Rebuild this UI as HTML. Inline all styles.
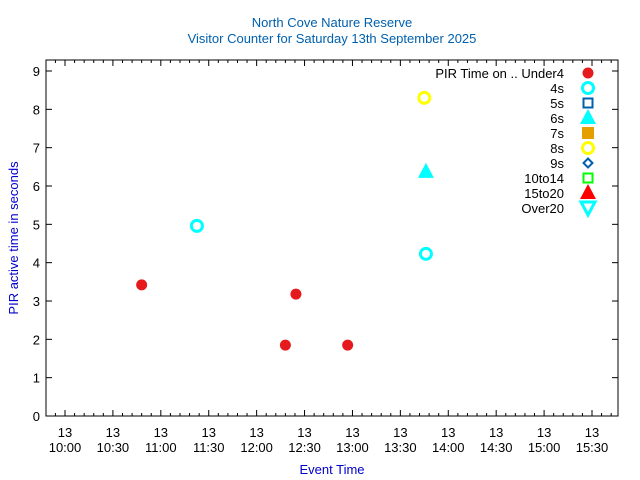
<!DOCTYPE html>
<html><head><meta charset="utf-8"><style>
html,body{margin:0;padding:0;background:#fff}
svg{display:block;font-family:"Liberation Sans",sans-serif}
</style></head><body>
<svg id="chart" width="640" height="480" viewBox="0 0 640 480">
<text x="332" y="27" font-size="13" fill="#0060ad" text-anchor="middle">North Cove Nature Reserve</text>
<text x="332" y="43" font-size="13" fill="#0060ad" text-anchor="middle">Visitor Counter for Saturday 13th September 2025</text>
<text x="332" y="474" font-size="13" fill="#0000cc" text-anchor="middle">Event Time</text>
<text transform="translate(18,238) rotate(-90)" font-size="13" fill="#0000cc" text-anchor="middle">PIR active time in seconds</text>
<g id="axes"></g><g id="marks"></g><g id="legend"></g>
</svg>
<script>
const xTickLabels=["10:00","10:30","11:00","11:30","12:00","12:30","13:00","13:30","14:00","14:30","15:00","15:30"];
const yTicks=[0,1,2,3,4,5,6,7,8,9];
// times in minutes after 10:00
const under4Times=[48,138,144.6,177];
const under4Values=[3.42,1.85,3.18,1.85];
const s4Times=[82.6,226];
const s4Values=[4.96,4.23];
const s6Times=[226];
const s6Values=[6.37];
const s8Times=[225];
const s8Values=[8.3];
const legendLabels=["PIR Time on .. Under4","4s","5s","6s","7s","8s","9s","10to14","15to20","Over20"];

const NS="http://www.w3.org/2000/svg";
const L=46,R=618,T=60,B=416;
const xs=m=>65+m*(527/330);
const ys=v=>416-v*(345/9);
function mk(tag,attrs,parent){const e=document.createElementNS(NS,tag);for(const k in attrs)e.setAttribute(k,attrs[k]);parent.appendChild(e);return e;}
const axes=document.getElementById('axes'),marks=document.getElementById('marks'),legend=document.getElementById('legend');
const frame=mk('rect',{x:L,y:T,width:R-L,height:B-T,fill:'none',stroke:'#000','stroke-width':1},axes);


yTicks.forEach(v=>{const y=ys(v);
 mk('line',{x1:L,x2:L+6,y1:y,y2:y,stroke:'#000'},axes);
 mk('line',{x1:R,x2:R-6,y1:y,y2:y,stroke:'#000'},axes);
 const t=mk('text',{x:L-6,y:y+5,'font-size':13,'text-anchor':'end'},axes);t.textContent=v;
 
 
});
for(let m=-6;m<=342;m+=6){const x=xs(m);if(x<L||x>R)continue;const maj=(m%30===0);const h=maj?6:3;
 mk('line',{x1:x,x2:x,y1:B,y2:B-h,stroke:'#000'},axes);
 mk('line',{x1:x,x2:x,y1:T,y2:T+h,stroke:'#000'},axes);}
xTickLabels.forEach((lab,i)=>{const x=xs(i*30);
 const t=mk('text',{x:x,y:437,'font-size':13,'text-anchor':'middle'},axes);t.textContent="13";
 
 
 const t2=mk('text',{x:x,y:452,'font-size':13,'text-anchor':'middle'},axes);t2.textContent=lab;
 
 
});
function sym(kind,x,y,p){
 let e;
 if(kind==='dot')e=mk('circle',{cx:x,cy:y,r:5.5,fill:'#e41a1c'},p);
 else if(kind==='ocirc')e=mk('circle',{cx:x,cy:y,r:5.5,fill:'none',stroke:'#00ffff','stroke-width':3},p);
 else if(kind==='osq')e=mk('rect',{x:x-4.5,y:y-4.5,width:9,height:9,fill:'none',stroke:'#0060ad','stroke-width':2},p);
 else if(kind==='tri')e=mk('polygon',{points:`${x},${y-9} ${x-8},${y+6} ${x+8},${y+6}`,fill:'#00ffff'},p);
 else if(kind==='sq')e=mk('rect',{x:x-6,y:y-6,width:12,height:12,fill:'#e69f00'},p);
 else if(kind==='ycirc')e=mk('circle',{cx:x,cy:y,r:5.5,fill:'none',stroke:'#ffff00','stroke-width':3},p);
 else if(kind==='dia')e=mk('polygon',{points:`${x},${y-4.5} ${x+4.5},${y} ${x},${y+4.5} ${x-4.5},${y}`,fill:'none',stroke:'#0060ad','stroke-width':2},p);
 else if(kind==='gsq')e=mk('rect',{x:x-4.5,y:y-4.5,width:9,height:9,fill:'none',stroke:'#00ff00','stroke-width':2},p);
 else if(kind==='rtri')e=mk('polygon',{points:`${x},${y-9} ${x-8},${y+6} ${x+8},${y+6}`,fill:'#ff0000'},p);
 else e=mk('polygon',{points:`${x-7},${y-6} ${x+7},${y-6} ${x},${y+7}`,fill:'none',stroke:'#00ffff','stroke-width':3},p);
 return e;}
function series(times,vals,kind,name){times.forEach((t,i)=>{const e=sym(kind,xs(t),ys(vals[i]),marks);
 
 });}
series(under4Times,under4Values,'dot','point-under4');
series(s4Times,s4Values,'ocirc','point-4s');
series(s6Times,s6Values,'tri','point-6s');
series(s8Times,s8Values,'ycirc','point-8s');
const kinds=['dot','ocirc','osq','tri','sq','ycirc','dia','gsq','rtri','itri'];
legendLabels.forEach((lab,i)=>{const y=73+i*15;
 const t=mk('text',{x:564,y:y+5,'font-size':13,'text-anchor':'end'},legend);t.textContent=lab;
 
 
 const s=sym(kinds[i],588,y,legend);
 
 
});
</script>
</body></html>
